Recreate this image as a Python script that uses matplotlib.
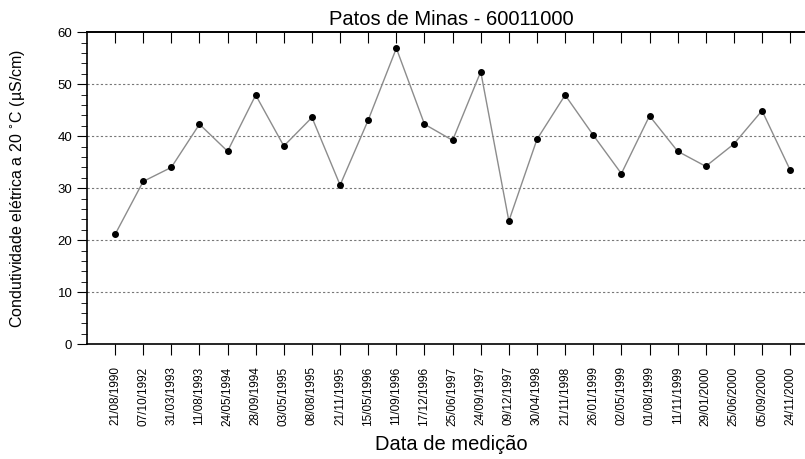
import matplotlib.pyplot as plt
from matplotlib.ticker import MultipleLocator

plt.rcParams['font.family'] = ['Liberation Sans', 'DejaVu Sans']

# Data
datas = ["21/08/1990", "07/10/1992", "31/03/1993", "11/08/1993", "24/05/1994",
         "28/09/1994", "03/05/1995", "08/08/1995", "21/11/1995", "15/05/1996",
         "11/09/1996", "17/12/1996", "25/06/1997", "24/09/1997", "09/12/1997",
         "30/04/1998", "21/11/1998", "26/01/1999", "02/05/1999", "01/08/1999",
         "11/11/1999", "29/01/2000", "25/06/2000", "05/09/2000", "24/11/2000"]
condutividade = [21.1, 31.3, 34.0, 42.3, 37.1, 47.9, 38.1, 43.6, 30.6, 43.1,
                 56.9, 42.3, 39.2, 52.4, 23.7, 39.4, 47.9, 40.2, 32.8, 43.9,
                 37.1, 34.2, 38.5, 44.9, 33.5]

fig = plt.figure(figsize=(8.05, 4.59), dpi=100)
ax = fig.add_axes([0.108, 0.25, 0.905, 0.68])

x = list(range(len(datas)))
ax.plot(x, condutividade, color='#8c8c8c', linewidth=1, zorder=2)
ax.plot(x, condutividade, 'o', color='black', markersize=4, zorder=3)

ax.set_xlim(-1, 24.9)
ax.set_ylim(0, 60)
ax.set_xticks(x)
ax.set_xticklabels(datas, rotation=90, fontsize=8.5)
ax.yaxis.set_major_locator(MultipleLocator(10))
ax.yaxis.set_minor_locator(MultipleLocator(2))
ax.tick_params(axis='y', which='major', direction='out', length=7, labelsize=9.5)
ax.tick_params(axis='y', which='minor', direction='out', length=4)
ax.tick_params(axis='x', which='major', direction='out', length=8, pad=8)

# top ticks point into the plot
top = ax.secondary_xaxis('top')
top.set_xticks(x)
top.set_xticklabels([])
top.tick_params(direction='in', length=8)
top.spines['top'].set_linewidth(1.2)

for v in [10, 20, 30, 40, 50]:
    ax.axhline(v, color='#777777', linestyle=(0, (2, 2)), linewidth=0.8, zorder=1)

ax.spines['right'].set_visible(False)
for s in ['left', 'bottom', 'top']:
    ax.spines[s].set_linewidth(1.2)

ax.set_title("Patos de Minas - 60011000", fontsize=14.5, pad=5)
ax.set_xlabel("Data de medição", fontsize=14.5, labelpad=7)
ax.set_ylabel("Condutividade elétrica a 20 $^{\\circ}$C (µS/cm)", fontsize=11.5, labelpad=22)

fig.savefig("out.png", dpi=100)
